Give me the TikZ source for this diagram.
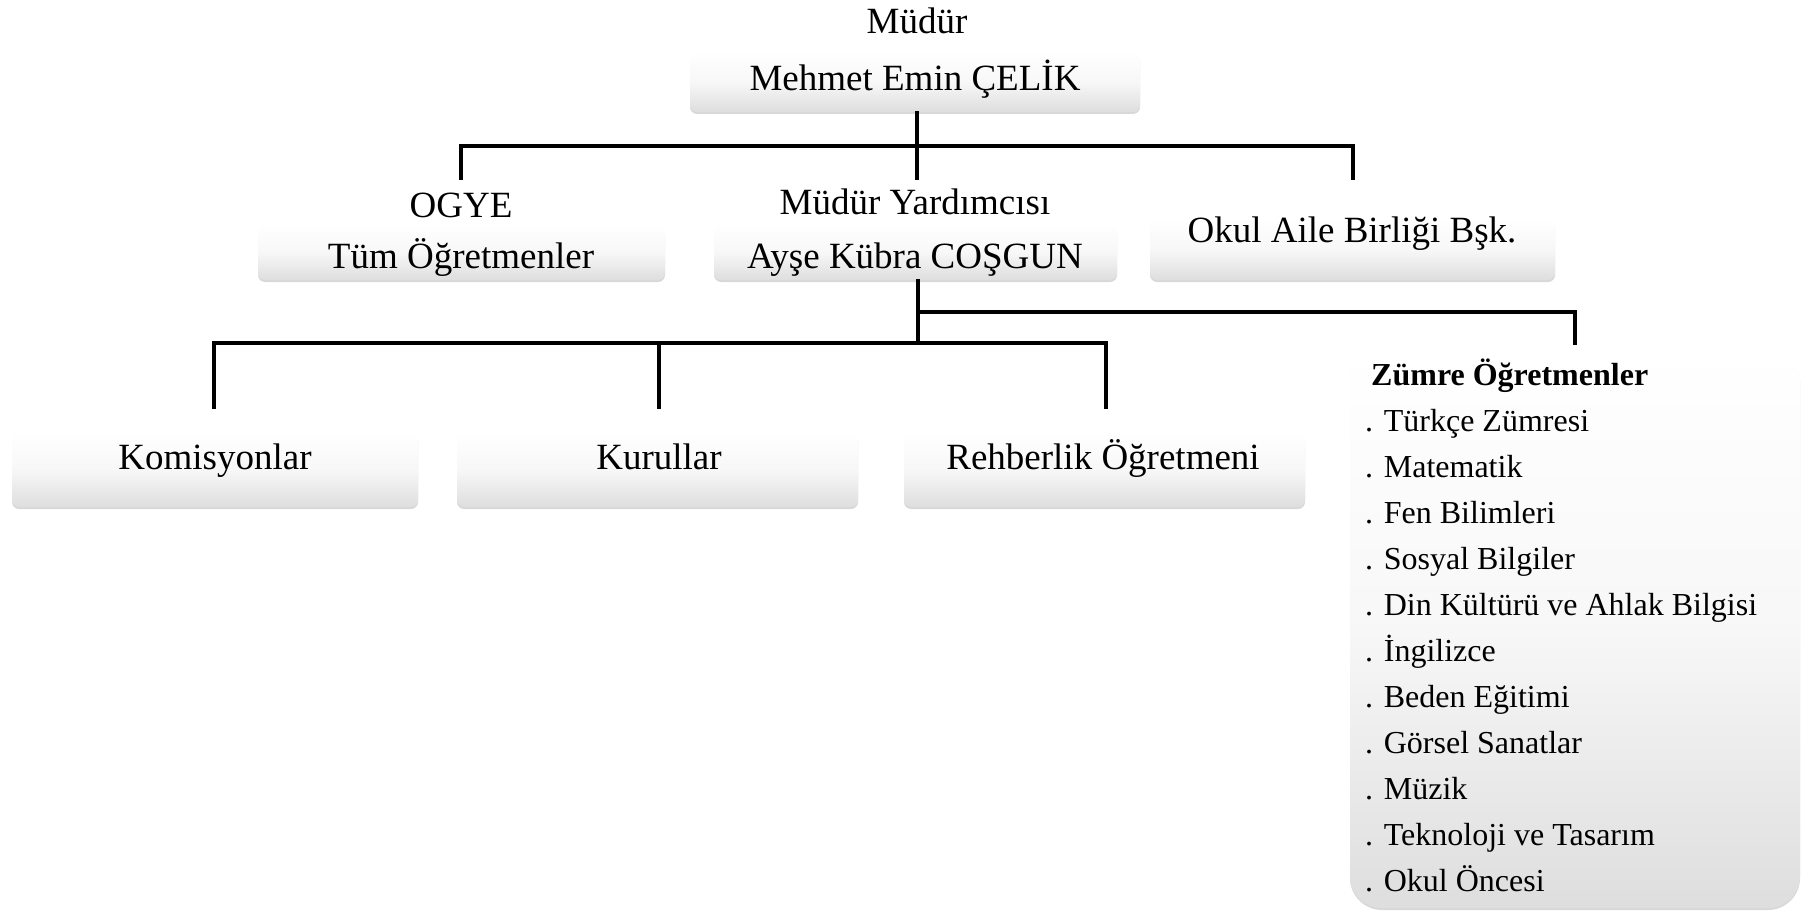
\documentclass[tikz,border=0pt]{standalone}
\usepackage{fontspec}
\setmainfont{Liberation Serif}
\usetikzlibrary{shadows}
\begin{document}
\begin{tikzpicture}[x=1pt,y=-1pt,
  box/.style={rectangle, rounded corners=7pt, inner sep=0pt,
    top color=white, bottom color=black!13, middle color=white!97!black,
    drop shadow={shadow xshift=0pt,shadow yshift=-2pt,fill=black!30,opacity=0.5}},
  bigbox/.style={box, rounded corners=32pt},
  lbl/.style={inner sep=0pt, text height=24.4pt, text depth=0pt, font=\fontsize{37}{44}\selectfont},
  item/.style={anchor=west, inner sep=0pt, text height=21.1pt, text depth=0pt, font=\fontsize{32}{38}\selectfont},
  conn/.style={line width=3.2pt, line cap=rect}]
\useasboundingbox (0,0) rectangle (1806,912);

% boxes
\node[box, minimum width=450, minimum height=60] (m) at (915,82) {};
\node[box, minimum width=407, minimum height=55] (ogye) at (461.5,252.5) {};
\node[box, minimum width=403, minimum height=55] (my) at (915.5,252.5) {};
\node[box, minimum width=405, minimum height=61] (oab) at (1352.5,249.5) {};
\node[box, minimum width=406, minimum height=75] (kom) at (215,469.5) {};
\node[box, minimum width=401, minimum height=75] (kur) at (657.5,469.5) {};
\node[box, minimum width=401, minimum height=75] (reh) at (1104.5,469.5) {};
\node[bigbox, minimum width=450, minimum height=560] (zum) at (1575,628) {};

% texts
\node[lbl] (mt) at (917,21) {Müdür};
\node[lbl] (mn) at (915,78) {Mehmet Emin ÇELİK};
\node[lbl] (ogyet) at (461,205) {OGYE};
\node[lbl] (ogyen) at (461,256) {Tüm Öğretmenler};
\node[lbl] (myt) at (915,202) {Müdür Yardımcısı};
\node[lbl] (myn) at (915,256) {Ayşe Kübra COŞGUN};
\node[lbl] (oabt) at (1352,230) {Okul Aile Birliği Bşk.};
\node[lbl] (komt) at (215,457) {Komisyonlar};
\node[lbl] (kurt) at (659,457) {Kurullar};
\node[lbl] (reht) at (1103,457) {Rehberlik Öğretmeni};

\node[item, font=\fontsize{32}{38}\selectfont\bfseries] (zh) at (1371,375) {Zümre Öğretmenler};
\node[item] (z1) at (1365,421) {. Türkçe Zümresi};
\node[item] (z2) at (1365,467) {. Matematik};
\node[item] (z3) at (1365,513) {. Fen Bilimleri};
\node[item] (z4) at (1365,559) {. Sosyal Bilgiler};
\node[item] (z5) at (1365,605) {. Din Kültürü ve Ahlak Bilgisi};
\node[item] (z6) at (1365,651) {. İngilizce};
\node[item] (z7) at (1365,697) {. Beden Eğitimi};
\node[item] (z8) at (1365,743) {. Görsel Sanatlar};
\node[item] (z9) at (1365,789) {. Müzik};
\node[item] (z10) at (1365,835) {. Teknoloji ve Tasarım};
\node[item] (z11) at (1365,881) {. Okul Öncesi};

% connector points
\coordinate (h1) at (917,146);
\coordinate (d1) at (461,178);
\coordinate (d2) at (917,178);
\coordinate (d3) at (1353,178);
\coordinate (h2) at (918,343);
\coordinate (h3) at (918,312);
\coordinate (e1) at (214,407);
\coordinate (e2) at (659,407);
\coordinate (e3) at (1106,407);
\coordinate (e4) at (1575,343);

% connectors
\draw[conn] (m.south -| h1) -- (h1);
\draw[conn] (d1) -- (d1 |- h1) -- (d3 |- h1) -- (d3);
\draw[conn] (h1) -- (d2);
\draw[conn] (my.south -| h2) -- (h2);
\draw[conn] (e1) -- (e1 |- h2) -- (e3 |- h2) -- (e3);
\draw[conn] (e2) -- (e2 |- h2);
\draw[conn] (h3) -- (e4 |- h3) -- (e4);
\end{tikzpicture}
\end{document}
